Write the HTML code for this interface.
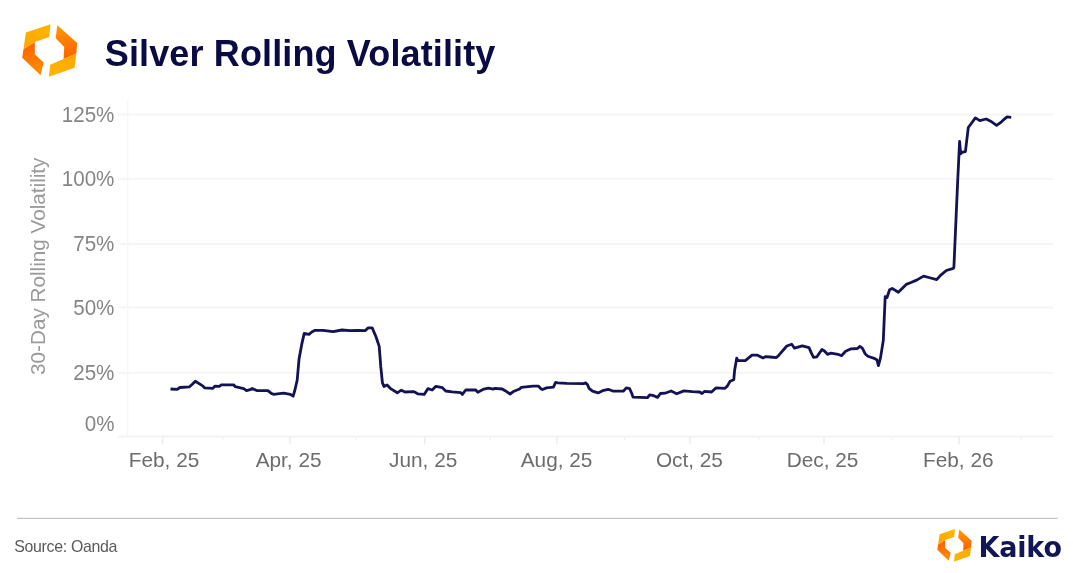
<!DOCTYPE html>
<html><head><meta charset="utf-8"><style>
html,body{margin:0;padding:0;background:#fff;}
body{width:1073px;height:573px;overflow:hidden;}
svg{display:block;filter:blur(0.35px);}
text{font-family:"Liberation Sans",Arial,Helvetica,sans-serif;}
</style></head><body>
<svg width="1073" height="573" viewBox="0 0 1073 573">
<defs>
<linearGradient id="L1a" gradientUnits="userSpaceOnUse" x1="29" y1="46" x2="38" y2="72">
<stop offset="0" stop-color="#ff6400"/><stop offset="1" stop-color="#ff8c00"/></linearGradient>
<linearGradient id="L1b" gradientUnits="userSpaceOnUse" x1="70" y1="56" x2="62" y2="28">
<stop offset="0" stop-color="#ff6400"/><stop offset="1" stop-color="#ff9400"/></linearGradient>
<linearGradient id="L1y1" gradientUnits="userSpaceOnUse" x1="45" y1="26" x2="28" y2="46">
<stop offset="0" stop-color="#ffb400"/><stop offset="1" stop-color="#ffa800"/></linearGradient>
<linearGradient id="L1y2" gradientUnits="userSpaceOnUse" x1="55" y1="75" x2="72" y2="55">
<stop offset="0" stop-color="#ffb400"/><stop offset="1" stop-color="#ffa800"/></linearGradient>
<linearGradient id="L2a" gradientUnits="userSpaceOnUse" x1="29" y1="46" x2="38" y2="72">
<stop offset="0" stop-color="#ff6400"/><stop offset="1" stop-color="#ff8c00"/></linearGradient>
<linearGradient id="L2b" gradientUnits="userSpaceOnUse" x1="70" y1="56" x2="62" y2="28">
<stop offset="0" stop-color="#ff6400"/><stop offset="1" stop-color="#ff9400"/></linearGradient>
<linearGradient id="L2y1" gradientUnits="userSpaceOnUse" x1="45" y1="26" x2="28" y2="46">
<stop offset="0" stop-color="#ffb400"/><stop offset="1" stop-color="#ffa800"/></linearGradient>
<linearGradient id="L2y2" gradientUnits="userSpaceOnUse" x1="55" y1="75" x2="72" y2="55">
<stop offset="0" stop-color="#ffb400"/><stop offset="1" stop-color="#ffa800"/></linearGradient>
</defs>
<rect width="1073" height="573" fill="#fff"/>
<g transform="translate(0,0) scale(1)">
<path d="M34.8,42.0 L23.5,49.0 L22.2,57.7 L40.5,75.2 L43.7,62.4 L34.8,54.6 Z" fill="url(#L1a)"/>
<path d="M50.5,24.2 L25.9,32.6 L23.5,49.0 L34.8,42.0 L49.2,37.0 Z" fill="url(#L1y1)"/>
<path d="M57.3,25.2 L77.2,43.0 L76.3,53.5 L63.6,59.0 L64.2,47.0 L55.7,38.3 Z" fill="url(#L1b)"/>
<path d="M63.6,59.0 L76.3,53.5 L74.6,67.7 L48.8,76.8 L50.2,64.8 Z" fill="url(#L1y2)"/>
</g>
<text x="104.8" y="66" font-size="36" font-weight="bold" fill="#0a0b45" letter-spacing="0.13">Silver Rolling Volatility</text>
<line x1="118" y1="114.6" x2="1053" y2="114.6" stroke="#f5f5f5" stroke-width="2"/>
<line x1="118" y1="178.8" x2="1053" y2="178.8" stroke="#f5f5f5" stroke-width="2"/>
<line x1="118" y1="244.0" x2="1053" y2="244.0" stroke="#f5f5f5" stroke-width="2"/>
<line x1="118" y1="307.6" x2="1053" y2="307.6" stroke="#f5f5f5" stroke-width="2"/>
<line x1="118" y1="372.8" x2="1053" y2="372.8" stroke="#f5f5f5" stroke-width="2"/>
<line x1="118" y1="436.5" x2="1053" y2="436.5" stroke="#f3f3f3" stroke-width="2"/>
<line x1="127.8" y1="99" x2="127.8" y2="436.5" stroke="#f7f7f7" stroke-width="1.5"/>
<line x1="162.6" y1="436.5" x2="162.6" y2="444.5" stroke="#ececec" stroke-width="1.5"/>
<line x1="290" y1="436.5" x2="290" y2="444.5" stroke="#ececec" stroke-width="1.5"/>
<line x1="424.6" y1="436.5" x2="424.6" y2="444.5" stroke="#ececec" stroke-width="1.5"/>
<line x1="557" y1="436.5" x2="557" y2="444.5" stroke="#ececec" stroke-width="1.5"/>
<line x1="690" y1="436.5" x2="690" y2="444.5" stroke="#ececec" stroke-width="1.5"/>
<line x1="824" y1="436.5" x2="824" y2="444.5" stroke="#ececec" stroke-width="1.5"/>
<line x1="959" y1="436.5" x2="959" y2="444.5" stroke="#ececec" stroke-width="1.5"/>
<line x1="223" y1="436.5" x2="223" y2="440.5" stroke="#f3f3f3" stroke-width="1.5"/>
<line x1="355.7" y1="436.5" x2="355.7" y2="440.5" stroke="#f3f3f3" stroke-width="1.5"/>
<line x1="490" y1="436.5" x2="490" y2="440.5" stroke="#f3f3f3" stroke-width="1.5"/>
<line x1="624.8" y1="436.5" x2="624.8" y2="440.5" stroke="#f3f3f3" stroke-width="1.5"/>
<line x1="759" y1="436.5" x2="759" y2="440.5" stroke="#f3f3f3" stroke-width="1.5"/>
<line x1="891.6" y1="436.5" x2="891.6" y2="440.5" stroke="#f3f3f3" stroke-width="1.5"/>
<line x1="1021" y1="436.5" x2="1021" y2="440.5" stroke="#f3f3f3" stroke-width="1.5"/>
<text transform="translate(114.4,121.5) scale(1,1.04)" font-size="20.6" fill="#858585" text-anchor="end">125%</text>
<text transform="translate(114.4,185.7) scale(1,1.04)" font-size="20.6" fill="#858585" text-anchor="end">100%</text>
<text transform="translate(114.4,250.9) scale(1,1.04)" font-size="20.6" fill="#858585" text-anchor="end">75%</text>
<text transform="translate(114.4,314.5) scale(1,1.04)" font-size="20.6" fill="#858585" text-anchor="end">50%</text>
<text transform="translate(114.4,379.7) scale(1,1.04)" font-size="20.6" fill="#858585" text-anchor="end">25%</text>
<text transform="translate(114.6,431.4) scale(1,1.04)" font-size="20.6" fill="#858585" text-anchor="end">0%</text>
<text transform="translate(45.2,374.9) rotate(-90)" font-size="20.7" fill="#9a9a9a">30-Day Rolling Volatility</text>
<text x="164.05" y="467.2" font-size="20.8" fill="#6c6c6c" text-anchor="middle">Feb, 25</text>
<text x="288.6" y="467.2" font-size="20.8" fill="#6c6c6c" text-anchor="middle">Apr, 25</text>
<text x="423.2" y="467.2" font-size="20.8" fill="#6c6c6c" text-anchor="middle">Jun, 25</text>
<text x="556.6" y="467.2" font-size="20.8" fill="#6c6c6c" text-anchor="middle">Aug, 25</text>
<text x="689.4" y="467.2" font-size="20.8" fill="#6c6c6c" text-anchor="middle">Oct, 25</text>
<text x="822.6" y="467.2" font-size="20.8" fill="#6c6c6c" text-anchor="middle">Dec, 25</text>
<text x="958.25" y="467.2" font-size="20.8" fill="#6c6c6c" text-anchor="middle">Feb, 26</text>
<polyline points="170.5,389 177.2,389.3 179.8,387.5 189.5,386.8 192.3,384.3 195.3,381.3 202.3,385.6 204.5,387.8 212.9,388.3 215.1,386.1 219.6,386.3 221.3,384.8 233.6,384.8 235.3,386.7 243.7,388.7 246.5,390.7 250.9,389.3 252.2,388.5 256.7,390.6 267.9,390.6 271.3,393.4 273.5,394.3 283.6,393.1 290.3,394.3 293.1,396.2 294.8,390.5 297.2,380 299,359.3 301.9,343.6 304.2,333.4 309,334.3 311.8,332 315.1,330.3 323,330.3 333,331.7 342,330 350,330.6 358,330.3 365.1,330.7 368.2,327.9 372.2,327.9 376.1,337 379.2,346.4 380.8,366.9 382.4,382.6 384,386.5 387.1,385 391,388.9 397.3,392.8 401.3,390.2 405,392 414,391.6 417.7,393.8 424.2,394.4 428,388.6 432.2,390 435.9,386.3 442.4,387.7 445.7,391 452.2,391.9 460.6,392.6 462.4,394.4 465.7,390 475.5,389.8 477.8,392.2 483.9,389.1 488.5,388.2 493.2,389.1 495,388.3 502.3,389 505.1,390.7 510.1,394 514,391.2 519.6,389 521.3,387.3 533,386.2 538.6,386.2 540.9,388.7 542.5,389.5 546.5,387.9 553.4,387.2 555.6,382.4 557.8,382.8 566.8,383.4 583.6,383.6 585.8,382.9 587.5,384.8 589.1,388.4 592.5,391.2 598.1,392.9 602.6,390.7 608.2,389.3 613.3,391.2 623.5,391 626.3,387.9 629.6,388.7 631.8,393.5 633,397.1 640,397.4 647.5,397.7 649.7,394.9 653.7,395.7 657.6,397.4 660.4,393.5 665,393.2 671.1,391 676.7,393.8 683.9,390.9 692.3,391.6 699.7,392 702.1,393.5 704.7,391.3 711.5,392 715.9,387.9 724.9,388.3 727.1,386.4 730.1,381.2 733.8,379.7 734.6,370.5 736.7,358.2 737.9,360.7 745.3,360.7 752,355.2 757.5,355.2 763,357.9 765.4,356.7 770,357 776.4,357.6 778.9,355.2 786.8,346 791.7,344.2 794.5,348.1 802.3,345.9 809,347.6 811.3,352.9 813.5,357.4 816.9,356.8 821.9,349.5 824.2,350.7 827.5,354.3 830.9,353.2 838,354.3 841.5,355.7 845.6,351.3 851.2,348.8 857.4,348.5 859.9,346.4 862.3,348.1 865.1,353.7 867.9,356.2 874.9,358.6 877,360 878.4,365.6 880.5,357.9 883.3,340.5 885.2,296.6 887,297.5 889.6,289.7 892.2,288.4 898.3,292.3 906.2,284.4 911,282.5 916.6,280.1 923.6,276.1 928.9,277.5 936.7,279.6 941.1,274.8 946.3,270.5 953.3,268.3 953.9,267.3 957.5,185 959.6,141.3 960.7,153.9 962,152.3 965.4,151.6 968.3,127.5 970.5,124.5 975.4,117.9 979.8,120.6 986.1,119 991.7,121.8 996.6,125.3 1001.5,121.8 1004.4,119.1 1007,116.9 1011.2,117.3" fill="none" stroke="#121255" stroke-width="2.8" stroke-linejoin="round" stroke-linecap="butt"/>
<line x1="17" y1="518.3" x2="1057.5" y2="518.3" stroke="#c4c4c4" stroke-width="1.3"/>
<text x="14.3" y="551.6" font-size="15.9" fill="#5a5a5a" letter-spacing="-0.32">Source: Oanda</text>
<g transform="translate(923.48,513.85) scale(0.6234)">
<path d="M34.8,42.0 L23.5,49.0 L22.2,57.7 L40.5,75.2 L43.7,62.4 L34.8,54.6 Z" fill="url(#L2a)"/>
<path d="M50.5,24.2 L25.9,32.6 L23.5,49.0 L34.8,42.0 L49.2,37.0 Z" fill="url(#L2y1)"/>
<path d="M57.3,25.2 L77.2,43.0 L76.3,53.5 L63.6,59.0 L64.2,47.0 L55.7,38.3 Z" fill="url(#L2b)"/>
<path d="M63.6,59.0 L76.3,53.5 L74.6,67.7 L48.8,76.8 L50.2,64.8 Z" fill="url(#L2y2)"/>
</g>
<text transform="translate(978.6,556.8) scale(1,1.065)" font-size="27" font-weight="bold" fill="#111657" letter-spacing="-0.2" style="font-family:'DejaVu Sans',sans-serif">Kaiko</text>
</svg></body></html>
